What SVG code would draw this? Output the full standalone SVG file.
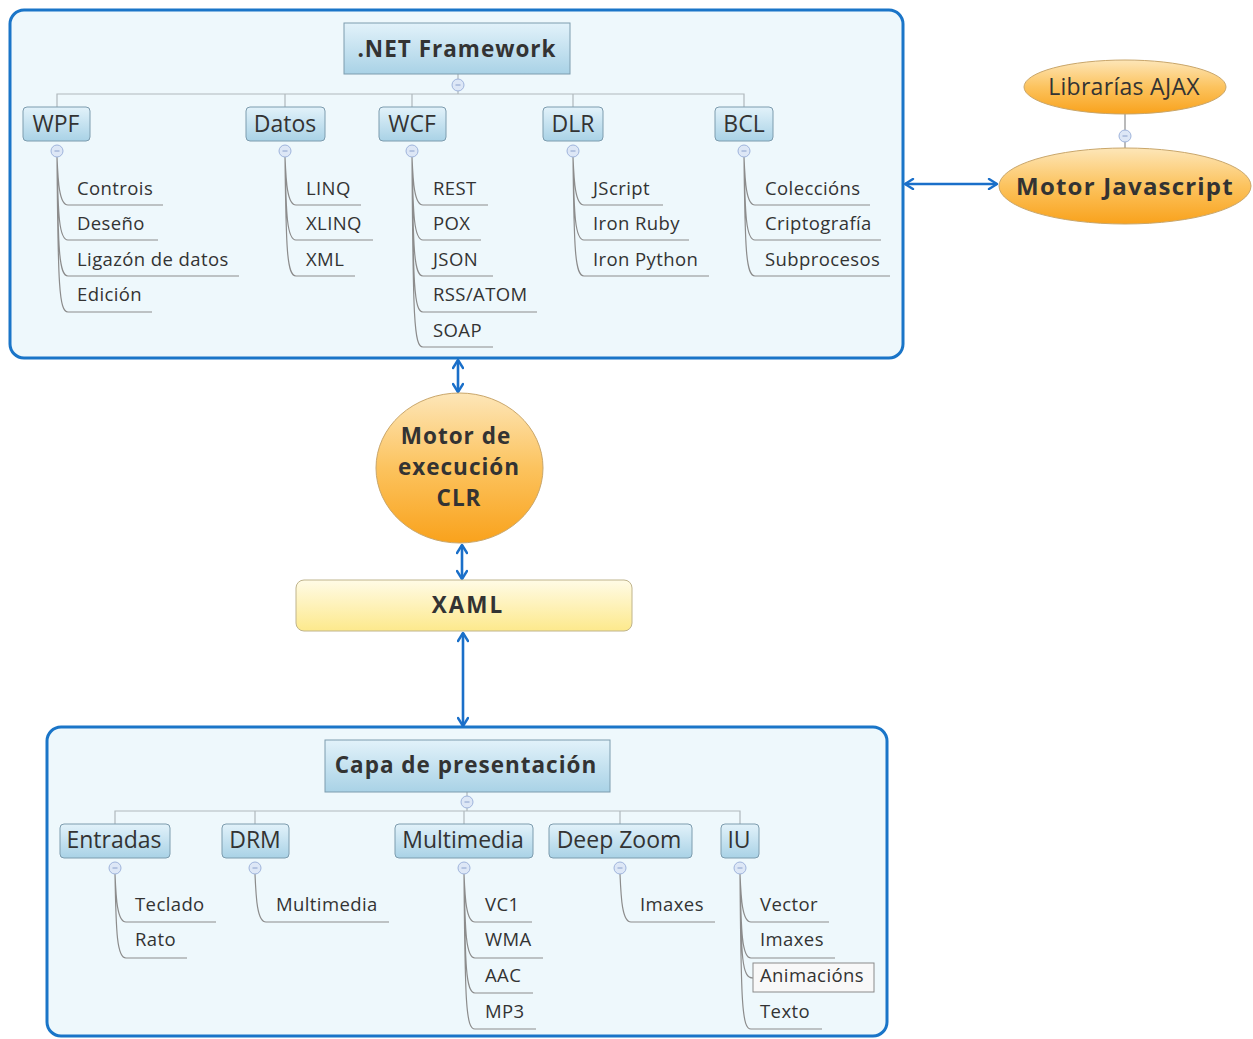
<svg xmlns="http://www.w3.org/2000/svg" width="1253" height="1039" viewBox="0 0 1253 1039">
<defs>
<linearGradient id="gBlue" x1="0" y1="0" x2="0" y2="1"><stop offset="0" stop-color="#e2f2fa"/><stop offset="1" stop-color="#a9d2e6"/></linearGradient>
<linearGradient id="gOrange" x1="0" y1="0" x2="0" y2="1"><stop offset="0" stop-color="#fde6b8"/><stop offset="0.5" stop-color="#fcc35e"/><stop offset="1" stop-color="#f9a21c"/></linearGradient>
<linearGradient id="gYellow" x1="0" y1="0" x2="0" y2="1"><stop offset="0" stop-color="#fffbe6"/><stop offset="1" stop-color="#fde98c"/></linearGradient>
<marker id="arr" viewBox="0 0 12 12" refX="10" refY="6" markerWidth="12" markerHeight="12" markerUnits="userSpaceOnUse" orient="auto-start-reverse">
<path d="M2,1 L10,6 L2,11" fill="none" stroke="#1a6fc9" stroke-width="2.4" stroke-linecap="round" stroke-linejoin="round"/>
</marker>
<g id="col"><circle r="6" fill="#dde7f6" stroke="#9fb4dc" stroke-width="1"/><line x1="-2.5" y1="0" x2="2.5" y2="0" stroke="#8aa0cc" stroke-width="1"/></g>
</defs>
<style>
.frame{fill:#eef8fc;stroke:#1a75c8;stroke-width:3}
.main{fill:url(#gBlue);stroke:#7d9cae;stroke-width:1}
.child{fill:url(#gBlue);stroke:#7d9cae;stroke-width:1}
.t{font-family:"Open Sans","Noto Sans","DejaVu Sans",sans-serif;fill:#333}
.big{font-size:22.5px;font-weight:bold;text-anchor:middle;letter-spacing:1px}
.ch{font-size:23px;text-anchor:middle}
.lf{font-size:18.5px;letter-spacing:0.4px}
.tree{fill:none;stroke:#8c8c8c;stroke-width:1.2}
.hl{fill:none;stroke:#b0b8bc;stroke-width:1.2}
.link{fill:none;stroke:#1a6fc9;stroke-width:2.6;marker-start:url(#arr);marker-end:url(#arr)}
</style>

<g id="frame-top"><rect class="frame" x="10" y="10" width="893" height="348" rx="14"/></g>
<g id="frame-bottom"><rect class="frame" x="47" y="727" width="840" height="309" rx="14"/></g>

<g id="connectors">
<line class="link" x1="458" y1="360" x2="458" y2="392"/>
<line class="link" x1="462" y1="545" x2="462" y2="579"/>
<line class="link" x1="463" y1="633" x2="463" y2="726"/>
<line class="link" x1="905" y1="184" x2="997" y2="184"/>
<line class="tree" x1="1125" y1="114" x2="1125" y2="148"/>
<path class="hl" d="M458,74 V94 M57,107 V94 H744 V107 M285,94 V107 M412,94 V107 M573,94 V107"/>
<path class="tree" d="M57,157 C58,180 59,205 68,205 H163 M57,157 C58,215 59,240 68,240 H158 M57,157 C58,250 59,276 68,276 H239 M57,157 C58,285 59,312 68,312 H152"/>
<path class="tree" d="M285,157 C286,180 287,205 296,205 H361 M285,157 C286,215 287,240 296,240 H373 M285,157 C286,250 287,276 296,276 H355"/>
<path class="tree" d="M412,157 C413,180 414,205 423,205 H488 M412,157 C413,215 414,240 423,240 H481 M412,157 C413,250 414,276 423,276 H493 M412,157 C413,285 414,312 423,312 H537 M412,157 C413,320 414,347 423,347 H493"/>
<path class="tree" d="M573,157 C574,180 575,205 584,205 H663 M573,157 C574,215 575,240 584,240 H689 M573,157 C574,250 575,276 584,276 H709"/>
<path class="tree" d="M744,157 C745,180 746,205 755,205 H870 M744,157 C745,215 746,240 755,240 H881 M744,157 C745,250 746,276 755,276 H890"/>
<path class="hl" d="M467,792 V811 M115,824 V811 H740 V824 M255,811 V824 M464,811 V824 M620,811 V824"/>
<path class="tree" d="M115,874 C116,897 117,922 126,922 H216 M115,874 C116,933 117,958 126,958 H187"/>
<path class="tree" d="M255,874 C256,897 257,922 266,922 H389"/>
<path class="tree" d="M464,874 C465,897 466,922 475,922 H532 M464,874 C465,933 466,958 475,958 H543 M464,874 C465,968 466,993 475,993 H533 M464,874 C465,1004 466,1029 475,1029 H536"/>
<path class="tree" d="M620,874 C621,897 622,922 631,922 H715"/>
<path class="tree" d="M740,874 C741,897 742,922 751,922 H829 M740,874 C741,933 742,958 751,958 H835 M740,874 C741,960 742,978 753,978 M740,874 C741,1004 742,1029 751,1029 H822"/>
</g>

<g id="net"><rect class="main" x="344" y="23" width="226" height="51"/><text class="t big" x="457" y="57">.NET Framework</text><use href="#col" x="458" y="85"/></g>
<g id="wpf"><rect class="child" x="23" y="107" width="67" height="34" rx="4"/><text class="t ch" x="56" y="132">WPF</text><use href="#col" x="57" y="151"/></g>
<g id="datos"><rect class="child" x="246" y="107" width="79" height="34" rx="4"/><text class="t ch" x="285" y="132">Datos</text><use href="#col" x="285" y="151"/></g>
<g id="wcf"><rect class="child" x="379" y="107" width="67" height="34" rx="4"/><text class="t ch" x="412" y="132">WCF</text><use href="#col" x="412" y="151"/></g>
<g id="dlr"><rect class="child" x="543" y="107" width="60" height="34" rx="4"/><text class="t ch" x="573" y="132">DLR</text><use href="#col" x="573" y="151"/></g>
<g id="bcl"><rect class="child" x="715" y="107" width="58" height="34" rx="4"/><text class="t ch" x="744" y="132">BCL</text><use href="#col" x="744" y="151"/></g>

<g id="leaves-top">
<text class="t lf" x="77" y="195">Controis</text>
<text class="t lf" x="77" y="230">Deseño</text>
<text class="t lf" x="77" y="266">Ligazón de datos</text>
<text class="t lf" x="77" y="301">Edición</text>
<text class="t lf" x="306" y="195">LINQ</text>
<text class="t lf" x="306" y="230">XLINQ</text>
<text class="t lf" x="306" y="266">XML</text>
<text class="t lf" x="433" y="195">REST</text>
<text class="t lf" x="433" y="230">POX</text>
<text class="t lf" x="433" y="266">JSON</text>
<text class="t lf" x="433" y="301">RSS/ATOM</text>
<text class="t lf" x="433" y="337">SOAP</text>
<text class="t lf" x="593" y="195">JScript</text>
<text class="t lf" x="593" y="230">Iron Ruby</text>
<text class="t lf" x="593" y="266">Iron Python</text>
<text class="t lf" x="765" y="195">Coleccións</text>
<text class="t lf" x="765" y="230">Criptografía</text>
<text class="t lf" x="765" y="266">Subprocesos</text>
</g>

<g id="ajax"><ellipse cx="1125" cy="87" rx="101" ry="27" fill="url(#gOrange)" stroke="#c9a66a" stroke-width="1"/><text class="t ch" x="1124" y="95" style="letter-spacing:0.3px">Librarías AJAX</text></g>
<g id="motorjs"><use href="#col" x="1125" y="136"/><ellipse cx="1125" cy="186" rx="126" ry="38" fill="url(#gOrange)" stroke="#c9a66a" stroke-width="1"/><text class="t big" x="1125" y="195" style="font-size:24px;letter-spacing:1.2px">Motor Javascript</text></g>

<g id="clr"><ellipse cx="459.5" cy="468" rx="83.5" ry="75" fill="url(#gOrange)" stroke="#c9a66a" stroke-width="1"/>
<text class="t big" x="456" y="444">Motor de</text><text class="t big" x="459" y="475">execución</text><text class="t big" x="459" y="506">CLR</text></g>

<g id="xaml"><rect x="296" y="580" width="336" height="51" rx="8" fill="url(#gYellow)" stroke="#bfb48c" stroke-width="1"/><text class="t big" x="468" y="613" style="letter-spacing:2px">XAML</text></g>

<g id="capa"><rect class="main" x="325" y="740" width="285" height="52"/><text class="t big" x="466" y="773">Capa de presentación</text><use href="#col" x="467" y="802"/></g>
<g id="entradas"><rect class="child" x="60" y="824" width="110" height="34" rx="4"/><text class="t ch" x="114" y="848">Entradas</text><use href="#col" x="115" y="868"/></g>
<g id="drm"><rect class="child" x="222" y="824" width="67" height="34" rx="4"/><text class="t ch" x="255" y="848">DRM</text><use href="#col" x="255" y="868"/></g>
<g id="multimedia"><rect class="child" x="395" y="824" width="138" height="34" rx="4"/><text class="t ch" x="463" y="848">Multimedia</text><use href="#col" x="464" y="868"/></g>
<g id="deepzoom"><rect class="child" x="549" y="824" width="143" height="34" rx="4"/><text class="t ch" x="619" y="848">Deep Zoom</text><use href="#col" x="620" y="868"/></g>
<g id="iu"><rect class="child" x="721" y="824" width="38" height="34" rx="4"/><text class="t ch" x="739" y="848">IU</text><use href="#col" x="740" y="868"/></g>

<g id="leaves-bottom">
<text class="t lf" x="135" y="911">Teclado</text>
<text class="t lf" x="135" y="946">Rato</text>
<text class="t lf" x="276" y="911">Multimedia</text>
<text class="t lf" x="485" y="911">VC1</text>
<text class="t lf" x="485" y="946">WMA</text>
<text class="t lf" x="485" y="982">AAC</text>
<text class="t lf" x="485" y="1018">MP3</text>
<text class="t lf" x="640" y="911">Imaxes</text>
<text class="t lf" x="760" y="911">Vector</text>
<text class="t lf" x="760" y="946">Imaxes</text>
<rect x="753" y="963" width="121" height="29" fill="#f8f8f8" stroke="#8a8a8a" stroke-width="1"/>
<text class="t lf" x="760" y="982">Animacións</text>
<text class="t lf" x="760" y="1018">Texto</text>
</g>
</svg>
